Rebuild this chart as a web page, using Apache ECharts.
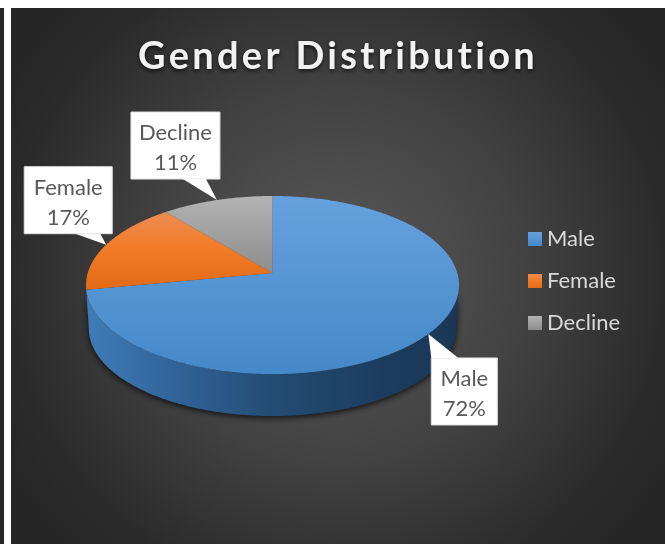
<!DOCTYPE html>
<html><head><meta charset="utf-8">
<style>html,body{margin:0;padding:0;background:#fff;overflow:hidden}#c{width:665px;height:544px}</style>
<script src="https://cdn.jsdelivr.net/npm/echarts@6/dist/echarts.min.js"></script>
</head><body><div id="c"></div>
<script>
const chartTitle = 'Gender Distribution';
const categories = ['Male', 'Female', 'Decline'];
const shares = [72, 17, 11];

// letter-spacing for the title only (canvas property, not exposed by ECharts)
const titleSpacing = '3.3px';
const origFill = CanvasRenderingContext2D.prototype.fillText;
CanvasRenderingContext2D.prototype.fillText = function (t, x, y) {
  if (t === chartTitle) {
    const prev = this.letterSpacing; this.letterSpacing = titleSpacing;
    origFill.call(this, t, x, y); this.letterSpacing = prev; return;
  }
  return origFill.apply(this, arguments);
};

// perspective disc: the centre of the pie projects above the ellipse middle
const CX = 272.5, APEX_Y = 273, RAD = 184.8, A = 87.4, C = -0.135;
const DEPTH = 43.5, BOTTOM_SCALE = 0.985;
function P(deg, bottom) {
  const t = deg * Math.PI / 180, u = Math.sin(t), v = -Math.cos(t), w = 1 + C * v;
  const s = bottom ? BOTTOM_SCALE : 1;
  return [CX + s * RAD * u / w, APEX_Y + s * A * v / w + (bottom ? DEPTH : 0)];
}
function arc(a, b, bottom) {
  const pts = [], n = Math.max(2, Math.ceil(Math.abs(b - a) * 1.5));
  for (let i = 0; i <= n; i++) pts.push(P(a + (b - a) * i / n, bottom));
  return pts;
}
const vGrad = (a, b, c) => ({ type: 'linear', x: 0, y: 0, x2: 0, y2: 1, colorStops: c ?
  [{ offset: 0, color: a }, { offset: .45, color: b }, { offset: 1, color: c }] :
  [{ offset: 0, color: a }, { offset: 1, color: b }] });
const fills = [vGrad('#66a1dd', '#4588c9'), vGrad('#ec8c52', '#f27c28', '#e06a16'), vGrad('#b3b3b3', '#8d8d8d')];
const sideFill = { type: 'linear', x: 0, y: 0, x2: 1, y2: 0, colorStops: [
  { offset: 0, color: '#3f7cb8' }, { offset: .25, color: '#306297' }, { offset: .5, color: '#234c74' },
  { offset: .8, color: '#1c3c5e' }, { offset: 1, color: '#1a3755' }] };
const boxes = [ // callout box relative to the callout tip: dx, dy, w, h, pointer base along the box edge
  { dx: 3, dy: 24, w: 66, h: 67, edge: 'top', p0: 0, p1: 27 },
  { dx: -82, dy: -78, w: 88, h: 67, edge: 'bottom', p0: 51, p1: 76 },
  { dx: -86, dy: -88, w: 89, h: 67, edge: 'bottom', p0: 52, p1: 75 }
];
const total = shares.reduce((a, b) => a + b, 0);
const LEFT_EXT = 262.8, RIGHT_EXT = 97.8;

function renderSlice(i) {
  return function (params, api) {
    const val = api.value(0);
    const before = shares.slice(0, i).reduce((a, b) => a + b, 0);
    const a0 = before / total * 360, a1 = (before + val) / total * 360, mid = (a0 + a1) / 2;
    const children = [];
    const s0 = Math.max(a0, RIGHT_EXT), s1 = Math.min(a1, LEFT_EXT);
    if (s1 - s0 > 5) {
      const pts = arc(s0, s1, false).concat(arc(s0, s1, true).reverse());
      children.push({ type: 'polygon', shape: { points: pts }, style: {
        fill: sideFill, shadowColor: 'rgba(0,0,0,0.75)', shadowBlur: 6, shadowOffsetY: 2, shadowOffsetX: 0 } });
    }
    const top = arc(a0, a1, false); top.push([CX, APEX_Y]);
    children.push({ type: 'polygon', shape: { points: top }, style: { fill: fills[i] } });

    const tip = P(mid, false), b = boxes[i];
    const bx = tip[0] + b.dx, by = tip[1] + b.dy;
    const ey = b.edge === 'top' ? by : by + b.h;
    children.push({ type: 'rect', shape: { x: bx, y: by, width: b.w, height: b.h },
      style: { fill: '#fff', stroke: '#e2e2e2', lineWidth: 1 } });
    children.push({ type: 'polygon', shape: { points: [[bx + b.p0, ey], [bx + b.p1, ey], tip] },
      style: { fill: '#fff' } });
    children.push({ type: 'text', style: { x: bx + b.w / 2, y: by + b.h / 2 + 2.5,
      text: categories[i] + '\n' + Math.round(val / total * 100) + '%',
      align: 'center', verticalAlign: 'middle', fill: '#595959',
      font: '22px Lato', lineHeight: 30 } });
    return { type: 'group', children };
  };
}

const chart = echarts.init(document.getElementById('c'), null, { renderer: 'canvas' });
chart.setOption({
  animation: false,
  title: { text: chartTitle, left: 333, top: 33, textAlign: 'center', textStyle: {
    fontFamily: 'Lato', fontWeight: 'bold', fontSize: 38, color: '#f2f2f2',
    textShadowColor: 'rgba(0,0,0,0.7)', textShadowBlur: 4, textShadowOffsetY: 2 } },
  legend: { orient: 'vertical', left: 523, top: 223, icon: 'rect', itemWidth: 14, itemHeight: 14,
    itemGap: 20, selectedMode: false, textStyle: { fontFamily: 'Lato', fontSize: 22, color: '#d9d9d9' },
    data: categories },
  graphic: [
    { type: 'rect', silent: true, z: -10, shape: { x: 0, y: 8, width: 4, height: 536 }, style: { fill: '#262626' } },
    { type: 'rect', silent: true, z: -10, shape: { x: 11, y: 8, width: 654, height: 536 }, style: { fill: {
      type: 'radial', global: true, x: 338, y: 276, r: 385, colorStops: [
        { offset: 0, color: '#5a5a5a' }, { offset: .5, color: '#414141' }, { offset: .85, color: '#2b2b2b' }, { offset: 1, color: '#262626' }] } } }
  ],
  series: categories.map((name, i) => ({
    type: 'custom', name, coordinateSystem: 'none', silent: true,
    itemStyle: { color: fills[i] }, data: [shares[i]], renderItem: renderSlice(i)
  }))
});
</script></body></html>
